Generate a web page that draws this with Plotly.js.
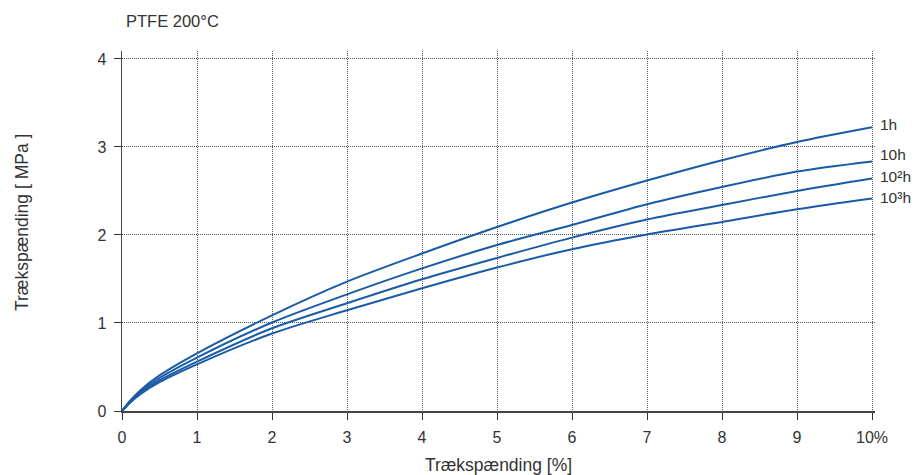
<!DOCTYPE html>
<html>
<head>
<meta charset="utf-8">
<script src="https://cdn.plot.ly/plotly-3.0.1.min.js"></script>
<style>
  html, body { margin: 0; padding: 0; background: #fff; }
  #chart { width: 916px; height: 475px; }
</style>
</head>
<body>
<div id="chart"></div>
<script>
// Strain [%] sampling points
const strain = [0, 0.1, 0.25, 0.5, 1, 2, 3, 4, 5, 6, 7, 8, 9, 10];

// Tensile stress [MPa] for each load duration
const stress1h    = [0, 0.11, 0.24, 0.405, 0.656, 1.087, 1.47, 1.789, 2.09, 2.368, 2.618, 2.849, 3.057, 3.224];
const stress10h   = [0, 0.102, 0.222, 0.375, 0.607, 1.005, 1.325, 1.62, 1.886, 2.114, 2.349, 2.545, 2.72, 2.834];
const stress100h  = [0, 0.094, 0.205, 0.347, 0.561, 0.94, 1.225, 1.497, 1.739, 1.97, 2.175, 2.34, 2.50, 2.641];
const stress1000h = [0, 0.089, 0.194, 0.327, 0.53, 0.88, 1.144, 1.394, 1.63, 1.838, 2.005, 2.148, 2.292, 2.414];

const seriesNames = ['1h', '10h', '10²h', '10³h'];
const seriesData = [stress1h, stress10h, stress100h, stress1000h];
const labelShift = [3, 7, 2, 1];

const xTickVals = [0, 1, 2, 3, 4, 5, 6, 7, 8, 9, 10];
const xTickText = ['0', '1', '2', '3', '4', '5', '6', '7', '8', '9', '10%'];
const yTickVals = [0, 1, 2, 3, 4];

const lineColor = '#1a5ba6';
const textColor = '#333333';
const fontFamily = '"Liberation Sans", Arial, Helvetica, sans-serif';

const traces = seriesData.map((ys, i) => ({
  x: strain,
  y: ys,
  type: 'scatter',
  mode: 'lines',
  name: seriesNames[i],
  line: { color: lineColor, width: 2, shape: 'spline', smoothing: 0.8 },
  hoverinfo: 'skip'
}));

const annotations = seriesData.map((ys, i) => ({
  x: strain[strain.length - 1],
  y: ys[ys.length - 1],
  xref: 'x', yref: 'y',
  text: seriesNames[i],
  showarrow: false,
  xanchor: 'left',
  yanchor: 'middle',
  xshift: 6,
  yshift: labelShift[i],
  font: { family: fontFamily, size: 15.5, color: textColor }
}));

// Vertical y-axis title
annotations.push({
  xref: 'paper', yref: 'paper',
  x: 0, y: (411 - 223) / 360,
  xshift: -100,
  xanchor: 'center', yanchor: 'middle',
  textangle: -90,
  text: 'Trækspænding [ MPa ]',
  showarrow: false,
  font: { family: fontFamily, size: 17.5, color: textColor }
});

const gridStyle = {
  showgrid: true,
  gridcolor: '#555',
  griddash: '1px,1px',
  gridwidth: 1
};

const layout = {
  width: 916,
  height: 475,
  margin: { l: 122, r: 41, t: 51, b: 64 },
  paper_bgcolor: '#ffffff',
  plot_bgcolor: '#ffffff',
  showlegend: false,
  font: { family: fontFamily, size: 15, color: textColor },
  title: {
    text: 'PTFE 200°C',
    xref: 'container', yref: 'container',
    x: 126 / 916, xanchor: 'left',
    y: 1 - 21 / 475, yanchor: 'middle',
    font: { family: fontFamily, size: 16.5, color: textColor }
  },
  xaxis: Object.assign({
    range: [0, 10.04],
    tickvals: xTickVals,
    ticktext: xTickText,
    ticks: 'outside',
    ticklen: 7,
    tickwidth: 1,
    tickcolor: '#333',
    ticklabelstandoff: 4,
    showline: true,
    linecolor: '#444',
    linewidth: 1.5,
    zeroline: false,
    tickfont: { family: fontFamily, size: 16, color: textColor },
    title: {
      text: 'Trækspænding [%]',
      standoff: 14,
      font: { family: fontFamily, size: 17.5, color: textColor }
    }
  }, gridStyle),
  yaxis: Object.assign({
    range: [0, 4.09],
    tickvals: yTickVals,
    ticks: 'outside',
    ticklen: 7,
    tickwidth: 1,
    tickcolor: '#333',
    ticklabelstandoff: 4,
    showline: true,
    linecolor: '#444',
    linewidth: 1.5,
    zeroline: false,
    tickfont: { family: fontFamily, size: 16, color: textColor }
  }, gridStyle),
  annotations: annotations
};

Plotly.newPlot('chart', traces, layout, { staticPlot: true, displayModeBar: false });
</script>
</body>
</html>
